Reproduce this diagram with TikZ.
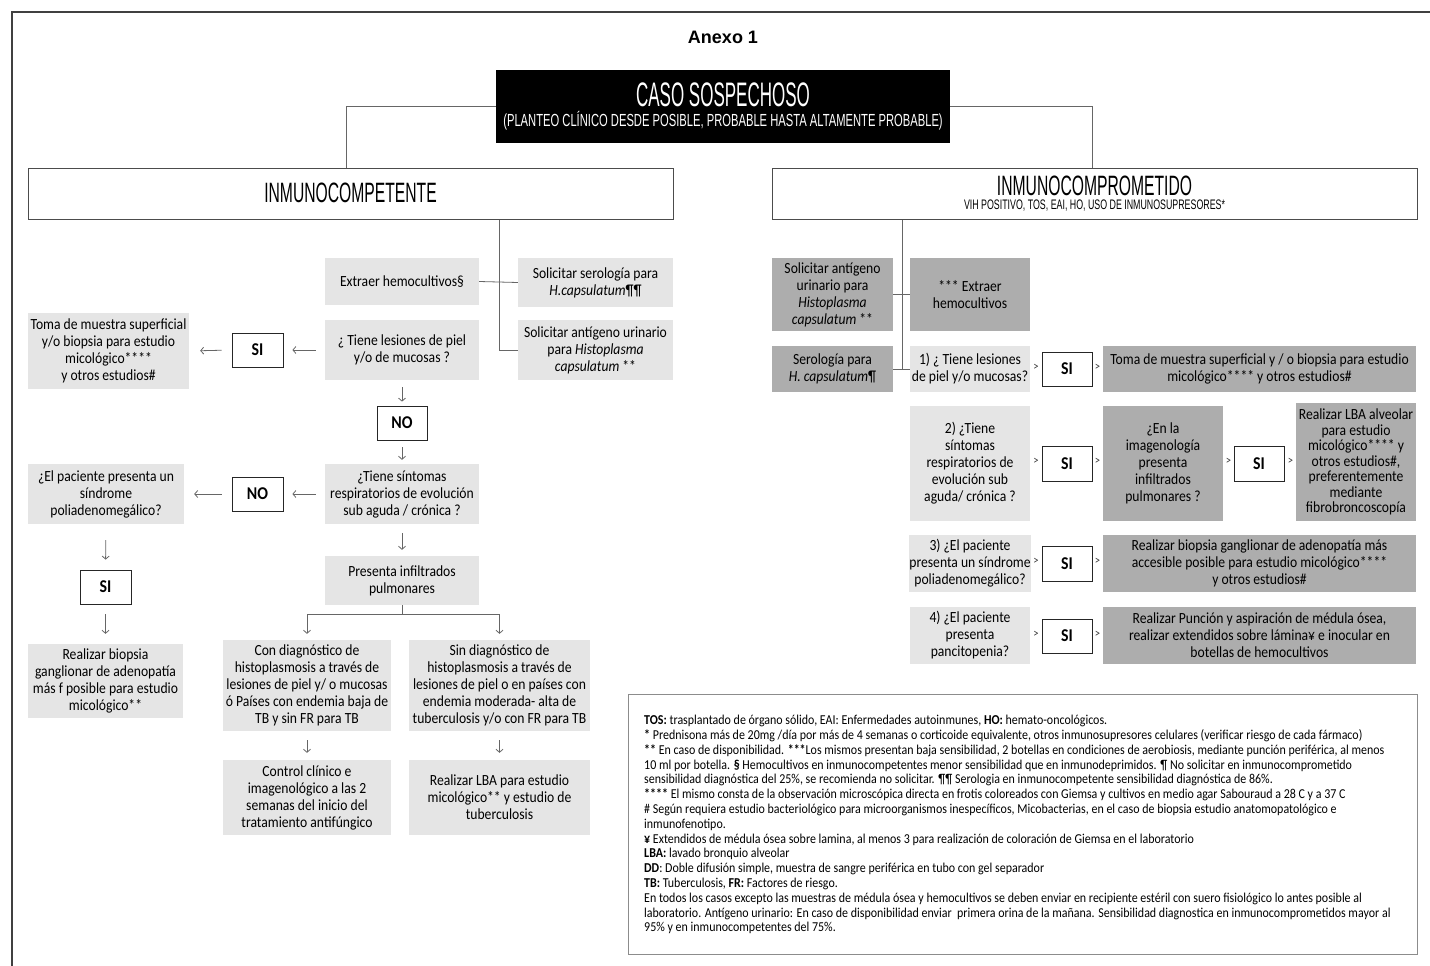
\documentclass[tikz,border=0pt]{standalone}
\usepackage{fontspec}
\setmainfont{Carlito}[FakeStretch=0.88]
\newfontfamily\hdrA{Liberation Sans}[FakeStretch=0.5]
\newfontfamily\hdrB{Liberation Sans}[FakeStretch=0.56]
\newfontfamily\hdrC{Liberation Sans}[FakeStretch=0.64]
\newfontfamily\anx{Liberation Sans}
\usetikzlibrary{arrows.meta}
\definecolor{lg}{gray}{0.9}
\definecolor{dg}{gray}{0.68}
\definecolor{lncol}{gray}{0.4}
\newcommand\fsz[2]{\fontsize{#1}{#2}\selectfont}
\begin{document}
\begin{tikzpicture}[x=1pt,y=-1pt,
  every node/.style={inner sep=0pt, align=center},
  lbox/.style={fill=lg, font=\fsz{15.5}{17}},
  dbox/.style={fill=dg, font=\fsz{15.5}{17}},
  yn/.style={draw=black!85, line width=0.8pt, fill=white, font=\bfseries\fsz{18}{18}, minimum width=51, minimum height=34},
  hbox/.style={draw=black!70, line width=1pt, fill=white, minimum width=645, minimum height=51},
  conn/.style={draw=lncol, line width=0.8pt},
  arr/.style={conn, -{Straight Barb[length=3pt,width=7pt]}},
  chev/.style={font=\fsz{12}{12}, text=black!80}
]
\useasboundingbox (0,0) rectangle (1430,966);
% frame
\draw[line width=2pt, black!75] (12,966) -- (12,12) -- (1430,12);

\node[font=\anx\bfseries\fsz{18}{18}] (anexo) at (723,37) {Anexo 1};

% top box
\node[fill=black, minimum width=454, minimum height=73] (caso) at (723,106.5) {};
\node[text=white, font=\hdrA\fsz{34}{34}] (casot) at (723,95) {CASO SOSPECHOSO};
\node[text=white, font=\hdrC\fsz{17.5}{18}] (casos) at (723,121) {(PLANTEO CLÍNICO DESDE POSIBLE, PROBABLE HASTA ALTAMENTE PROBABLE)};

% header boxes
\node[hbox] (icp) at (350.5,193.5) {};
\node[font=\hdrB\fsz{28}{28}] (icpt) at (350.5,193) {INMUNOCOMPETENTE};
\node[hbox] (icm) at (1094.5,193.5) {};
\node[font=\hdrB\fsz{28}{28}] (icmt) at (1094.5,186) {INMUNOCOMPROMETIDO};
\node[font=\hdrC\fsz{13.8}{14}] (icms) at (1094.5,206) {VIH POSITIVO, TOS, EAI, HO, USO DE INMUNOSUPRESORES*};

\draw[conn] (caso.west) -| ([xshift=-4.5pt]icp.north);
\draw[conn] (caso.east) -| ([xshift=-2.5pt]icm.north);

% ---------- left branch ----------
\node[lbox, minimum width=154, minimum height=47] (ehc) at (402,281.5) {Extraer hemocultivos§};
\node[lbox, minimum width=155, minimum height=49] (ser) at (595.5,282.5) {Solicitar serología para\\\textit{H.capsulatum}¶¶};
\node[lbox, minimum width=155, minimum height=60] (ant) at (595.5,350) {Solicitar antígeno urinario\\para \textit{Histoplasma}\\\textit{capsulatum} **};
\node[lbox, minimum width=154, minimum height=60] (q1) at (402,350) {¿ Tiene lesiones de piel\\y/o de mucosas ?};
\node[yn] (si1) at (257.5,350) {SI};
\node[lbox, minimum width=161, minimum height=76] (toma) at (108.5,351) {Toma de muestra superficial\\y/o biopsia para estudio\\micológico****\\y otros estudios\#};
\node[yn, minimum width=50] (no1) at (402,423) {NO};
\node[lbox, minimum width=154, minimum height=60] (q2) at (402,494) {¿Tiene síntomas\\respiratorios de evolución\\sub aguda / crónica ?};
\node[yn] (no2) at (257.5,494) {NO};
\node[lbox, minimum width=156, minimum height=60] (pol) at (106,494) {¿El paciente presenta un\\síndrome\\poliadenomegálico?};
\node[yn] (si2) at (105.5,587) {SI};
\node[lbox, minimum width=155, minimum height=74] (bio) at (105.5,681) {Realizar biopsia\\ganglionar de adenopatía\\más f posible para estudio\\micológico**};
\node[lbox, minimum width=154, minimum height=49] (inf) at (402,580.5) {Presenta infiltrados\\pulmonares};
\node[lbox, minimum width=168, minimum height=91] (con) at (307,685.5) {Con diagnóstico de\\histoplasmosis a través de\\lesiones de piel y/ o mucosas\\ó Países con endemia baja de\\TB y sin FR para TB};
\node[lbox, minimum width=181, minimum height=91] (sin) at (499.5,685.5) {Sin diagnóstico de\\histoplasmosis a través de\\lesiones de piel o en países con\\endemia moderada- alta de\\tuberculosis y/o con FR para TB};
\node[lbox, minimum width=168, minimum height=75] (ctl) at (307,797.5) {Control clínico e\\imagenológico a las 2\\semanas del inicio del\\tratamiento antifúngico};
\node[lbox, minimum width=181, minimum height=75] (lba) at (499.5,797.5) {Realizar LBA para estudio\\micológico** y estudio de\\tuberculosis};

\coordinate (lj) at (499,350);
\draw[conn] (icp.south -| lj) -- (lj) -- (ant.west);
\draw[conn] (ehc.east) -- (ser.west);
\draw[arr, shorten <=9pt, shorten >=9pt] (q1.west) -- (si1.east);
\draw[arr, shorten <=10pt, shorten >=11pt] (si1.west) -- (toma.east);
\draw[arr, shorten <=7pt, shorten >=4pt] (q1.south) -- (no1.north);
\draw[arr, shorten <=7pt, shorten >=4pt] (no1.south) -- (q2.north);
\draw[arr, shorten <=9pt, shorten >=9pt] (q2.west) -- (no2.east);
\draw[arr, shorten <=10pt, shorten >=10pt] (no2.west) -- (pol.east);
\draw[arr, shorten <=16pt, shorten >=10pt] (pol.south) -- (si2.north);
\draw[arr, shorten <=10pt, shorten >=10pt] (si2.south) -- (bio.north);
\draw[arr, shorten <=9pt, shorten >=6pt] (q2.south) -- (inf.north);
\coordinate (sp) at (402,614);
\draw[conn] (inf.south) -- (sp);
\draw[arr, shorten >=6pt] (sp) -| (con.north);
\draw[arr, shorten >=6pt] (sp) -| (sin.north);
\draw[arr, shorten <=9pt, shorten >=7pt] (con.south) -- (ctl.north);
\draw[arr, shorten <=9pt, shorten >=7pt] (sin.south) -- (lba.north);

% ---------- right branch ----------
\node[dbox, minimum width=121, minimum height=73] (rant) at (832.5,294.5) {Solicitar antígeno\\urinario para\\\textit{Histoplasma}\\\textit{capsulatum} **};
\node[dbox, minimum width=120, minimum height=73] (rhc) at (970,294.5) {*** Extraer\\hemocultivos};
\node[dbox, minimum width=121, minimum height=46] (rser) at (832.5,369) {Serología para\\\textit{H. capsulatum}¶};
\node[lbox, minimum width=120, minimum height=46] (r1) at (970,369) {1) ¿ Tiene lesiones\\de piel y/o mucosas?};
\node[yn, minimum width=50] (rsi1) at (1067,369) {SI};
\node[dbox, minimum width=313, minimum height=46] (rtoma) at (1259.5,369) {Toma de muestra superficial y / o biopsia para estudio\\micológico**** y otros estudios\#};

\node[lbox, minimum width=120, minimum height=115] (r2) at (970,463.5) {2) ¿Tiene\\síntomas\\respiratorios de\\evolución sub\\aguda/ crónica ?};
\node[yn, minimum width=50, minimum height=35] (rsi2) at (1067,463.5) {SI};
\node[dbox, minimum width=120, minimum height=115] (rimg) at (1163,463.5) {¿En la\\imagenología\\presenta\\infiltrados\\pulmonares ?};
\node[yn, minimum width=50, minimum height=35] (rsi3) at (1259,463.5) {SI};
\node[dbox, minimum width=120, minimum height=118, font=\fsz{15.5}{15.5}] (rlba) at (1356,462) {Realizar LBA alveolar\\para estudio\\micológico**** y\\otros estudios\#,\\preferentemente\\mediante\\fibrobroncoscopía};

\node[lbox, minimum width=120, minimum height=57] (r3) at (970,563.5) {3) ¿El paciente\\presenta un síndrome\\poliadenomegálico?};
\node[yn, minimum width=50, minimum height=35] (rsi4) at (1067,563.5) {SI};
\node[dbox, minimum width=313, minimum height=57] (rbio) at (1259.5,563.5) {Realizar biopsia ganglionar de adenopatía más\\accesible posible para estudio micológico****\\y otros estudios\#};

\node[lbox, minimum width=120, minimum height=57] (r4) at (970,635.5) {4) ¿El paciente\\presenta\\pancitopenia?};
\node[yn, minimum width=50] (rsi5) at (1067,636) {SI};
\node[dbox, minimum width=313, minimum height=57] (rpun) at (1259.5,635.5) {Realizar Punción y aspiración de médula ósea,\\realizar extendidos sobre lámina¥ e inocular en\\botellas de hemocultivos};

\coordinate (rj) at (902,369);
\draw[conn] (icm.south -| rj) -- (rj);
\draw[conn] (rant.east) -- (rhc.west);
\draw[conn] (rser.east) -- (r1.west);

% chevrons
\foreach \y/\n in {367/a,461.5/b,561.5/c,634/d}{
  \node[chev] (cl\n) at (1036,\y) {>};
  \node[chev] (cr\n) at (1097.5,\y) {>};
}
\node[chev] (cle) at (1228.5,461.5) {>};
\node[chev] (cre) at (1290.5,461.5) {>};

% ---------- legend ----------
\node[draw=black!45, line width=0.8pt, minimum width=789, minimum height=260] (legbox) at (1022.5,824) {};
\node[anchor=north west, align=left, font=\fsz{13.6}{14.8}] (leg) at (644,715) {%
\textbf{TOS:} trasplantado de órgano sólido, EAI: Enfermedades autoinmunes, \textbf{HO:} hemato-oncológicos.\\
\textbf{*} Prednisona más de 20mg /día por más de 4 semanas o corticoide equivalente, otros inmunosupresores celulares (verificar riesgo de cada fármaco)\\
\textbf{**} En caso de disponibilidad. \textbf{***}Los mismos presentan baja sensibilidad, 2 botellas en condiciones de aerobiosis, mediante punción periférica, al menos\\
10 ml por botella. \textbf{§} Hemocultivos en inmunocompetentes menor sensibilidad que en inmunodeprimidos. ¶ No solicitar en inmunocomprometido\\
sensibilidad diagnóstica del 25\%, se recomienda no solicitar. ¶¶ Serologia en inmunocompetente sensibilidad diagnóstica de 86\%.\\
\textbf{****} El mismo consta de la observación microscópica directa en frotis coloreados con Giemsa y cultivos en medio agar Sabouraud a 28 C y a 37 C\\
\# Según requiera estudio bacteriológico para microorganismos inespecíficos, Micobacterias, en el caso de biopsia estudio anatomopatológico e\\
inmunofenotipo.\\
\textbf{¥} Extendidos de médula ósea sobre lamina, al menos 3 para realización de coloración de Giemsa en el laboratorio\\
\textbf{LBA:} lavado bronquio alveolar\\
\textbf{DD}: Doble difusión simple, muestra de sangre periférica en tubo con gel separador\\
\textbf{TB:} Tuberculosis, \textbf{FR:} Factores de riesgo.\\
En todos los casos excepto las muestras de médula ósea y hemocultivos se deben enviar en recipiente estéril con suero fisiológico lo antes posible al\\
laboratorio. Antígeno urinario: En caso de disponibilidad enviar\ \ primera orina de la mañana. Sensibilidad diagnostica en inmunocomprometidos mayor al\\
95\% y en inmunocompetentes del 75\%.};
\end{tikzpicture}
\end{document}
